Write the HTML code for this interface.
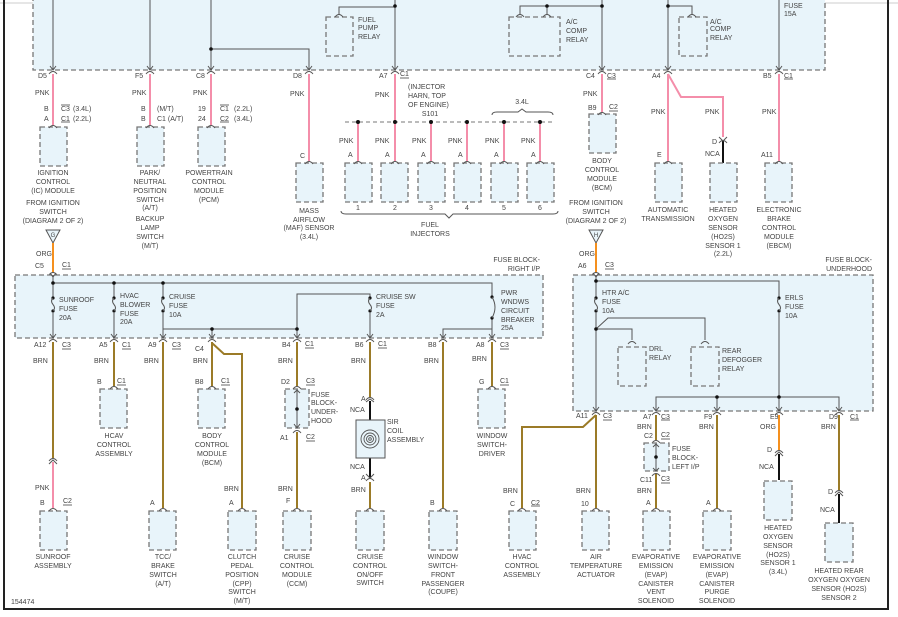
<!DOCTYPE html>
<html><head><meta charset="utf-8"><style>
html,body{margin:0;padding:0;background:#fff;}
svg{display:block;}
text{font-family:"Liberation Sans",sans-serif;font-size:7px;fill:#444;}
.m{text-anchor:middle;}
.e{text-anchor:end;}
.box{fill:#e8f4fa;stroke:#777;stroke-width:1.3;stroke-dasharray:5,3;}
.g{stroke:#555;stroke-width:1;fill:none;}
.p{stroke:#f48eaa;stroke-width:2;fill:none;}
.b{stroke:#9b7b28;stroke-width:2;fill:none;}
.o{stroke:#f5901e;stroke-width:2;fill:none;}
.k{stroke:#111;stroke-width:2;fill:none;}
.u{stroke:#444;stroke-width:0.8;}
</style></head><body>
<svg width="898" height="617" viewBox="0 0 898 617" xmlns="http://www.w3.org/2000/svg">
<defs>
<path id="cap" d="M-4,3 Q0,-2 4,3" fill="none" stroke="#555" stroke-width="1"/>
<path id="arr" d="M-3,-4 L0,0 L3,-4" fill="none" stroke="#555" stroke-width="1"/>
<g id="out"><path d="M-3,-4 L0,0 L3,-4" fill="none" stroke="#555"/><path d="M-4,4 Q0,-1 4,4" fill="none" stroke="#555"/></g>
<g id="fuse"><circle cx="0" cy="0" r="1.6" fill="#111"/><circle cx="0" cy="13" r="1.6" fill="#111"/><path d="M0,0 Q-3,3 0,6.5 Q3,10 0,13" fill="none" stroke="#555"/></g>
</defs>
<rect x="0" y="0" width="898" height="617" fill="#fff"/>
<line x1="0" y1="3" x2="898" y2="3" stroke="#ccc"/>
<!-- frame -->
<line x1="4" y1="0" x2="4" y2="610" stroke="#222" stroke-width="2"/>
<line x1="888" y1="0" x2="888" y2="610" stroke="#222" stroke-width="2"/>
<line x1="4" y1="609" x2="888" y2="609" stroke="#222" stroke-width="2"/>

<!-- TOP BOX -->
<rect class="box" x="33" y="-5" width="792" height="75"/>
<g class="g">
<line x1="53" y1="0" x2="53" y2="70"/><line x1="150" y1="0" x2="150" y2="70"/><line x1="211" y1="0" x2="211" y2="70"/>
<path d="M211,49 H309 V70"/>
<path d="M339,15 V7 H395 M395,0 V70"/>
<path d="M520,15 V6 H602 M547,6 V15 M602,0 V70"/>
<path d="M692,15 V6 H668 M668,0 V70"/>
<line x1="779" y1="0" x2="779" y2="70"/>
</g>
<circle cx="395" cy="6" r="1.8" fill="#111"/><circle cx="211" cy="49" r="1.8" fill="#111"/>
<circle cx="547" cy="6" r="1.8" fill="#111"/><circle cx="602" cy="6" r="1.8" fill="#111"/><circle cx="668" cy="6" r="1.8" fill="#111"/>
<rect class="box" x="326" y="17" width="27" height="39"/><use href="#cap" x="339" y="14"/>
<text x="358" y="22">FUEL</text><text x="358" y="30">PUMP</text><text x="358" y="39">RELAY</text>
<rect class="box" x="509" y="17" width="51" height="39"/><use href="#cap" x="520" y="14"/><use href="#cap" x="547" y="14"/>
<text x="566" y="24">A/C</text><text x="566" y="33">COMP</text><text x="566" y="42">RELAY</text>
<rect class="box" x="679" y="17" width="28" height="39"/><use href="#cap" x="692" y="14"/>
<text x="710" y="24">A/C</text><text x="710" y="31">COMP</text><text x="710" y="40">RELAY</text>
<text x="784" y="8">FUSE</text><text x="784" y="16">15A</text>
<g><use href="#out" x="53" y="70"/><use href="#out" x="150" y="70"/><use href="#out" x="211" y="70"/><use href="#out" x="309" y="70"/><use href="#out" x="395" y="70"/><use href="#out" x="602" y="70"/><use href="#out" x="668" y="70"/><use href="#out" x="779" y="70"/></g>

<!-- top wires -->
<g class="p">
<line x1="53" y1="74" x2="53" y2="125"/><line x1="150" y1="74" x2="150" y2="125"/><line x1="211" y1="74" x2="211" y2="125"/>
<line x1="309" y1="74" x2="309" y2="161"/><line x1="395" y1="74" x2="395" y2="161"/>
<line x1="358" y1="122" x2="358" y2="161"/><line x1="431" y1="122" x2="431" y2="161"/><line x1="467" y1="122" x2="467" y2="161"/><line x1="504" y1="122" x2="504" y2="161"/><line x1="540" y1="122" x2="540" y2="161"/>
<line x1="602" y1="74" x2="602" y2="112"/><line x1="668" y1="74" x2="668" y2="161"/>
<path d="M668,74 L681,97 H723 V137"/>
<line x1="779" y1="74" x2="779" y2="161"/>
</g>
<line x1="345" y1="122" x2="555" y2="122" stroke="#777" stroke-dasharray="4,3"/>
<g fill="#111"><circle cx="358" cy="122" r="2"/><circle cx="395" cy="122" r="2"/><circle cx="431" cy="122" r="2"/><circle cx="467" cy="122" r="2"/><circle cx="504" cy="122" r="2"/><circle cx="540" cy="122" r="2"/></g>
<path d="M492,115 Q492,112 497,112 H518 L522,109 L526,112 H548 Q553,112 553,115" class="g" stroke="#666"/>
<text x="522" y="104" class="m">3.4L</text>
<line x1="723" y1="141" x2="723" y2="163" class="k"/>
<path d="M719,137 L723,141 L727,137 M719,143 Q723,138 727,143" class="g"/>

<!-- top labels -->
<text x="38" y="78">D5</text><text x="135" y="78">F5</text><text x="196" y="78">C8</text><text x="293" y="78">D8</text><text x="379" y="78">A7</text><text x="400" y="76">C1</text><line class="u" x1="400" y1="78" x2="409" y2="78"/>
<text x="586" y="78">C4</text><text x="607" y="78">C3</text><line class="u" x1="607" y1="79" x2="616" y2="79"/>
<text x="652" y="78">A4</text><text x="763" y="78">B5</text><text x="784" y="78">C1</text><line class="u" x1="784" y1="79" x2="793" y2="79"/>
<text x="35" y="95">PNK</text><text x="132" y="95">PNK</text><text x="193" y="95">PNK</text><text x="290" y="96">PNK</text><text x="375" y="97">PNK</text>
<text x="408" y="89">(INJECTOR</text><text x="408" y="98">HARN, TOP</text><text x="408" y="107">OF ENGINE)</text><text x="430" y="116" class="m">S101</text>
<text x="583" y="96">PNK</text><text x="651" y="114">PNK</text><text x="705" y="114">PNK</text><text x="762" y="114">PNK</text>
<text x="44" y="111">B</text><text x="61" y="111">C3</text><line class="u" x1="61" y1="105" x2="70" y2="105"/><text x="73" y="111">(3.4L)</text>
<text x="44" y="121">A</text><text x="61" y="121">C1</text><line class="u" x1="61" y1="122" x2="70" y2="122"/><text x="73" y="121">(2.2L)</text>
<text x="141" y="111">B</text><text x="157" y="111">(M/T)</text>
<text x="141" y="121">B</text><text x="157" y="121">C1 (A/T)</text>
<text x="198" y="111">19</text><text x="220" y="111">C1</text><line class="u" x1="220" y1="105" x2="229" y2="105"/><text x="234" y="111">(2.2L)</text>
<text x="198" y="121">24</text><text x="220" y="121">C2</text><line class="u" x1="220" y1="122" x2="229" y2="122"/><text x="234" y="121">(3.4L)</text>
<text x="300" y="158">C</text>
<text x="339" y="143">PNK</text><text x="375" y="143">PNK</text><text x="412" y="143">PNK</text><text x="448" y="143">PNK</text><text x="485" y="143">PNK</text><text x="521" y="143">PNK</text>
<text x="348" y="157">A</text><text x="385" y="157">A</text><text x="421" y="157">A</text><text x="458" y="157">A</text><text x="494" y="157">A</text><text x="531" y="157">A</text>
<text x="588" y="110">B9</text><text x="609" y="109">C2</text><line class="u" x1="609" y1="111" x2="618" y2="111"/>
<text x="657" y="157">E</text><text x="712" y="144">D</text><text x="705" y="156">NCA</text><text x="761" y="157">A11</text>

<!-- top modules -->
<g>
<rect class="box" x="40" y="127" width="27" height="39"/><use href="#cap" x="53" y="125"/>
<rect class="box" x="137" y="127" width="27" height="39"/><use href="#cap" x="150" y="125"/>
<rect class="box" x="198" y="127" width="27" height="39"/><use href="#cap" x="211" y="125"/>
<rect class="box" x="296" y="163" width="27" height="39"/><use href="#cap" x="309" y="161"/>
<rect class="box" x="345" y="163" width="27" height="39"/><use href="#cap" x="358" y="161"/>
<rect class="box" x="381" y="163" width="27" height="39"/><use href="#cap" x="395" y="161"/>
<rect class="box" x="418" y="163" width="27" height="39"/><use href="#cap" x="431" y="161"/>
<rect class="box" x="454" y="163" width="27" height="39"/><use href="#cap" x="467" y="161"/>
<rect class="box" x="491" y="163" width="27" height="39"/><use href="#cap" x="504" y="161"/>
<rect class="box" x="527" y="163" width="27" height="39"/><use href="#cap" x="540" y="161"/>
<rect class="box" x="589" y="114" width="27" height="39"/><use href="#cap" x="602" y="112"/>
<rect class="box" x="655" y="163" width="27" height="39"/><use href="#cap" x="668" y="161"/>
<rect class="box" x="710" y="163" width="27" height="39"/>
<rect class="box" x="765" y="163" width="27" height="39"/><use href="#cap" x="779" y="161"/>
</g>
<text x="358" y="210" class="m">1</text><text x="395" y="210" class="m">2</text><text x="431" y="210" class="m">3</text><text x="467" y="210" class="m">4</text><text x="504" y="210" class="m">5</text><text x="540" y="210" class="m">6</text>
<path d="M341,211 Q341,214 346,214 H445 L449,218 L453,214 H553 Q558,214 558,211" class="g" stroke="#666"/>
<text x="430" y="227" class="m">FUEL</text><text x="430" y="236" class="m">INJECTORS</text>
<g class="m">
<text x="53" y="175" class="m">IGNITION</text><text x="53" y="184" class="m">CONTROL</text><text x="53" y="193" class="m">(IC) MODULE</text>
<text x="53" y="205" class="m">FROM IGNITION</text><text x="53" y="214" class="m">SWITCH</text><text x="53" y="223" class="m">(DIAGRAM 2 OF 2)</text>
<text x="150" y="175" class="m">PARK/</text><text x="150" y="184" class="m">NEUTRAL</text><text x="150" y="193" class="m">POSITION</text><text x="150" y="202" class="m">SWITCH</text><text x="150" y="210" class="m">(A/T)</text><text x="150" y="221" class="m">BACKUP</text><text x="150" y="230" class="m">LAMP</text><text x="150" y="239" class="m">SWITCH</text><text x="150" y="248" class="m">(M/T)</text>
<text x="209" y="175" class="m">POWERTRAIN</text><text x="209" y="184" class="m">CONTROL</text><text x="209" y="193" class="m">MODULE</text><text x="209" y="202" class="m">(PCM)</text>
<text x="309" y="213" class="m">MASS</text><text x="309" y="222" class="m">AIRFLOW</text><text x="309" y="230" class="m">(MAF) SENSOR</text><text x="309" y="239" class="m">(3.4L)</text>
<text x="602" y="163" class="m">BODY</text><text x="602" y="172" class="m">CONTROL</text><text x="602" y="181" class="m">MODULE</text><text x="602" y="190" class="m">(BCM)</text>
<text x="596" y="205" class="m">FROM IGNITION</text><text x="596" y="214" class="m">SWITCH</text><text x="596" y="223" class="m">(DIAGRAM 2 OF 2)</text>
<text x="668" y="212" class="m">AUTOMATIC</text><text x="668" y="221" class="m">TRANSMISSION</text>
<text x="723" y="212" class="m">HEATED</text><text x="723" y="221" class="m">OXYGEN</text><text x="723" y="230" class="m">SENSOR</text><text x="723" y="239" class="m">(HO2S)</text><text x="723" y="248" class="m">SENSOR 1</text><text x="723" y="256" class="m">(2.2L)</text>
<text x="779" y="212" class="m">ELECTRONIC</text><text x="779" y="221" class="m">BRAKE</text><text x="779" y="230" class="m">CONTROL</text><text x="779" y="239" class="m">MODULE</text><text x="779" y="248" class="m">(EBCM)</text>
</g>

<!-- G / H triangles -->
<path d="M46,230 H60 L53,243 Z" fill="#e8f4fa" stroke="#555"/><text x="53" y="237" class="m" style="font-size:6px">G</text>
<path d="M589,230 H603 L596,243 Z" fill="#e8f4fa" stroke="#555"/><text x="596" y="237" class="m" style="font-size:6px">H</text>
<line x1="53" y1="243" x2="53" y2="273" class="o"/><line x1="596" y1="243" x2="596" y2="273" class="o"/>
<text x="36" y="256">ORG</text><text x="579" y="256">ORG</text>
<text x="35" y="268">C5</text><text x="62" y="267">C1</text><line class="u" x1="62" y1="269" x2="71" y2="269"/>
<text x="578" y="268">A6</text><text x="605" y="267">C3</text><line class="u" x1="605" y1="269" x2="614" y2="269"/>
<use href="#cap" x="53" y="272"/><use href="#cap" x="596" y="272"/>

<!-- MIDDLE LEFT BOX -->
<rect class="box" x="15" y="275" width="528" height="63"/>
<text x="540" y="262" class="e">FUSE BLOCK-</text><text x="540" y="271" class="e">RIGHT I/P</text>
<g class="g">
<line x1="53" y1="275" x2="53" y2="338"/>
<path d="M53,283 H492 V338"/>
<line x1="114" y1="283" x2="114" y2="338"/>
<line x1="163" y1="283" x2="163" y2="338"/>
<path d="M163,329 H297 V338 M212,329 V338 M297,329 V294 H370 V338"/>
<path d="M443,338 V329 H492"/>
</g>
<use href="#arr" x="53" y="277"/>
<g fill="#111"><circle cx="53" cy="283" r="1.8"/><circle cx="114" cy="283" r="1.8"/><circle cx="163" cy="283" r="1.8"/><circle cx="212" cy="329" r="1.8"/><circle cx="297" cy="329" r="1.8"/></g>
<g fill="#e8f4fa" stroke="none"><rect x="50" y="298" width="6" height="15"/><rect x="111" y="298" width="6" height="15"/><rect x="160" y="298" width="6" height="15"/><rect x="367" y="298" width="6" height="15"/><rect x="489" y="298" width="6" height="20"/></g>
<use href="#fuse" x="53" y="298"/><use href="#fuse" x="114" y="298"/><use href="#fuse" x="163" y="298"/><use href="#fuse" x="370" y="298"/>
<circle cx="492" cy="297" r="1.6" fill="#111"/><circle cx="492" cy="318" r="1.6" fill="#111"/><path d="M492,297 Q498,307 492,318" class="g"/>
<text x="59" y="302">SUNROOF</text><text x="59" y="311">FUSE</text><text x="59" y="320">20A</text>
<text x="120" y="298">HVAC</text><text x="120" y="307">BLOWER</text><text x="120" y="316">FUSE</text><text x="120" y="324">20A</text>
<text x="169" y="299">CRUISE</text><text x="169" y="308">FUSE</text><text x="169" y="317">10A</text>
<text x="376" y="299">CRUISE SW</text><text x="376" y="308">FUSE</text><text x="376" y="317">2A</text>
<text x="501" y="295">PWR</text><text x="501" y="304">WNDWS</text><text x="501" y="313">CIRCUIT</text><text x="501" y="322">BREAKER</text><text x="501" y="330">25A</text>
<g><use href="#out" x="53" y="338"/><use href="#out" x="114" y="338"/><use href="#out" x="163" y="338"/><use href="#out" x="212" y="338"/><use href="#out" x="297" y="338"/><use href="#out" x="370" y="338"/><use href="#out" x="443" y="338"/><use href="#out" x="492" y="338"/></g>
<text x="34" y="347">A12</text><text x="62" y="347">C3</text><line class="u" x1="62" y1="349" x2="71" y2="349"/>
<text x="99" y="347">A5</text><text x="122" y="347">C1</text><line class="u" x1="122" y1="349" x2="131" y2="349"/>
<text x="148" y="347">A9</text><text x="172" y="347">C3</text><line class="u" x1="172" y1="349" x2="181" y2="349"/>
<text x="195" y="351">C4</text>
<text x="282" y="347">B4</text><text x="305" y="346">C1</text><line class="u" x1="305" y1="348" x2="314" y2="348"/>
<text x="355" y="347">B6</text><text x="378" y="346">C1</text><line class="u" x1="378" y1="348" x2="387" y2="348"/>
<text x="428" y="347">B8</text>
<text x="476" y="347">A8</text><text x="500" y="347">C3</text><line class="u" x1="500" y1="349" x2="509" y2="349"/>
<text x="33" y="363">BRN</text><text x="94" y="363">BRN</text><text x="144" y="363">BRN</text><text x="193" y="363">BRN</text><text x="278" y="363">BRN</text><text x="351" y="363">BRN</text><text x="424" y="363">BRN</text><text x="472" y="361">BRN</text>

<!-- middle-left wires -->
<g class="b">
<line x1="53" y1="342" x2="53" y2="458"/>
<line x1="114" y1="342" x2="114" y2="386"/>
<line x1="163" y1="342" x2="163" y2="508"/>
<line x1="212" y1="342" x2="212" y2="386"/>
<path d="M212,343 L224,354 H242 V508"/>
<line x1="297" y1="342" x2="297" y2="386"/>
<line x1="297" y1="432" x2="297" y2="508"/>
<line x1="370" y1="342" x2="370" y2="397"/>
<line x1="370" y1="482" x2="370" y2="508"/>
<line x1="443" y1="342" x2="443" y2="508"/>
<line x1="492" y1="342" x2="492" y2="386"/>
</g>
<use href="#cap" x="53" y="458"/><path d="M49,464 L53,460 L57,464" class="g"/>
<line x1="53" y1="462" x2="53" y2="508" class="p"/>
<text x="35" y="490">PNK</text>
<!-- modules mid -->
<rect class="box" x="100" y="389" width="27" height="39"/><use href="#cap" x="114" y="386"/>
<text x="97" y="384">B</text><text x="117" y="383">C1</text><line class="u" x1="117" y1="385" x2="126" y2="385"/>
<text x="114" y="438" class="m">HCAV</text><text x="114" y="447" class="m">CONTROL</text><text x="114" y="456" class="m">ASSEMBLY</text>
<rect class="box" x="198" y="389" width="27" height="39"/><use href="#cap" x="212" y="386"/>
<text x="195" y="384">B8</text><text x="221" y="383">C1</text><line class="u" x1="221" y1="385" x2="230" y2="385"/>
<text x="212" y="438" class="m">BODY</text><text x="212" y="447" class="m">CONTROL</text><text x="212" y="456" class="m">MODULE</text><text x="212" y="465" class="m">(BCM)</text>
<rect class="box" x="285" y="389" width="24" height="39"/>
<use href="#cap" x="297" y="386"/><path d="M294,393 L297,390 L300,393 M297,390 V428 M294,424 L297,428 L300,424" class="g"/>
<circle cx="297" cy="409" r="1.8" fill="#111"/><use href="#cap" x="297" y="430"/>
<text x="281" y="384">D2</text><text x="306" y="383">C3</text><line class="u" x1="306" y1="385" x2="315" y2="385"/>
<text x="311" y="397">FUSE</text><text x="311" y="405">BLOCK-</text><text x="311" y="414">UNDER-</text><text x="311" y="423">HOOD</text>
<text x="280" y="440">A1</text><text x="306" y="439">C2</text><line class="u" x1="306" y1="441" x2="315" y2="441"/>
<use href="#cap" x="370" y="397"/><path d="M366,402 L370,399 L374,402" class="g"/>
<line x1="370" y1="401" x2="370" y2="420" class="k"/><line x1="370" y1="458" x2="370" y2="478" class="k"/>
<text x="361" y="401">A</text><text x="350" y="412">NCA</text><text x="350" y="469">NCA</text><text x="361" y="480">A</text><text x="351" y="492">BRN</text>
<path d="M366,474 L370,478 L374,474" class="g"/><use href="#cap" x="370" y="478"/>
<rect x="356" y="420" width="29" height="38" fill="#e8f4fa" stroke="#555"/>
<g fill="none" stroke="#555" stroke-width="0.9"><circle cx="370" cy="439" r="9"/><circle cx="370" cy="439" r="6"/><circle cx="370" cy="439" r="3.5"/><circle cx="370" cy="439" r="1.3"/></g>
<text x="387" y="424">SIR</text><text x="387" y="433">COIL</text><text x="387" y="442">ASSEMBLY</text>
<rect class="box" x="478" y="389" width="27" height="39"/><use href="#cap" x="492" y="386"/>
<text x="479" y="384">G</text><text x="500" y="383">C1</text><line class="u" x1="500" y1="385" x2="509" y2="385"/>
<text x="492" y="438" class="m">WINDOW</text><text x="492" y="447" class="m">SWITCH-</text><text x="492" y="456" class="m">DRIVER</text>

<!-- bottom-left modules -->
<g>
<rect class="box" x="40" y="511" width="27" height="39"/><use href="#cap" x="53" y="508"/>
<rect class="box" x="149" y="511" width="27" height="39"/><use href="#cap" x="163" y="508"/>
<rect class="box" x="228" y="511" width="28" height="39"/><use href="#cap" x="242" y="508"/>
<rect class="box" x="283" y="511" width="28" height="39"/><use href="#cap" x="297" y="508"/>
<rect class="box" x="356" y="511" width="28" height="39"/><use href="#cap" x="370" y="508"/>
<rect class="box" x="429" y="511" width="28" height="39"/><use href="#cap" x="443" y="508"/>
</g>
<text x="40" y="505">B</text><text x="63" y="503">C2</text><line class="u" x1="63" y1="505" x2="72" y2="505"/>
<text x="150" y="505">A</text><text x="229" y="505">A</text><text x="286" y="503">F</text><text x="430" y="505">B</text>
<text x="224" y="491">BRN</text><text x="278" y="491">BRN</text>
<text x="53" y="559" class="m">SUNROOF</text><text x="53" y="568" class="m">ASSEMBLY</text>
<text x="163" y="559" class="m">TCC/</text><text x="163" y="568" class="m">BRAKE</text><text x="163" y="577" class="m">SWITCH</text><text x="163" y="586" class="m">(A/T)</text>
<text x="242" y="559" class="m">CLUTCH</text><text x="242" y="568" class="m">PEDAL</text><text x="242" y="577" class="m">POSITION</text><text x="242" y="586" class="m">(CPP)</text><text x="242" y="594" class="m">SWITCH</text><text x="242" y="603" class="m">(M/T)</text>
<text x="297" y="559" class="m">CRUISE</text><text x="297" y="568" class="m">CONTROL</text><text x="297" y="577" class="m">MODULE</text><text x="297" y="586" class="m">(CCM)</text>
<text x="370" y="559" class="m">CRUISE</text><text x="370" y="568" class="m">CONTROL</text><text x="370" y="577" class="m">ON/OFF</text><text x="370" y="585" class="m">SWITCH</text>
<text x="443" y="559" class="m">WINDOW</text><text x="443" y="568" class="m">SWITCH-</text><text x="443" y="577" class="m">FRONT</text><text x="443" y="586" class="m">PASSENGER</text><text x="443" y="594" class="m">(COUPE)</text>
<text x="11" y="604">154474</text>

<!-- RIGHT BOX -->
<rect class="box" x="573" y="275" width="300" height="136"/>
<text x="872" y="262" class="e">FUSE BLOCK-</text><text x="872" y="271" class="e">UNDERHOOD</text>
<g class="g">
<path d="M596,275 V411 M596,281 H779 V411"/>
<path d="M596,329 L608,318 H705 V340 M596,329 H632 V340"/>
<path d="M656,411 V397 H839 V411 M717,397 V411"/>
</g>
<use href="#arr" x="596" y="277"/>
<g fill="#111"><circle cx="596" cy="281" r="1.8"/><circle cx="596" cy="329" r="1.8"/><circle cx="717" cy="397" r="1.8"/><circle cx="779" cy="397" r="1.8"/></g>
<rect x="593" y="298" width="6" height="15" fill="#e8f4fa"/><rect x="776" y="298" width="6" height="15" fill="#e8f4fa"/>
<use href="#fuse" x="596" y="298"/><use href="#fuse" x="779" y="298"/>
<text x="602" y="295">HTR A/C</text><text x="602" y="304">FUSE</text><text x="602" y="313">10A</text>
<text x="785" y="300">ERLS</text><text x="785" y="309">FUSE</text><text x="785" y="318">10A</text>
<rect class="box" x="618" y="347" width="28" height="39"/><use href="#cap" x="632" y="341"/>
<rect class="box" x="691" y="347" width="28" height="39"/><use href="#cap" x="705" y="341"/>
<text x="649" y="351">DRL</text><text x="649" y="360">RELAY</text>
<text x="722" y="353">REAR</text><text x="722" y="362">DEFOGGER</text><text x="722" y="371">RELAY</text>
<g><use href="#out" x="596" y="411"/><use href="#out" x="656" y="411"/><use href="#out" x="717" y="411"/><use href="#out" x="779" y="411"/><use href="#out" x="839" y="411"/></g>
<text x="576" y="418">A11</text><text x="603" y="418">C3</text><line class="u" x1="603" y1="420" x2="612" y2="420"/>
<text x="643" y="419">A7</text><text x="661" y="419">C3</text><line class="u" x1="661" y1="420" x2="670" y2="420"/>
<text x="704" y="419">F9</text><text x="770" y="419">E9</text><text x="829" y="419">D9</text><text x="850" y="419">C1</text><line class="u" x1="850" y1="420" x2="859" y2="420"/>
<text x="637" y="429">BRN</text><text x="699" y="429">BRN</text><text x="760" y="429">ORG</text><text x="821" y="429">BRN</text>
<!-- right bottom wires -->
<g class="b">
<path d="M596,415 L583,427 H522 V508"/>
<line x1="596" y1="415" x2="596" y2="508"/>
<line x1="656" y1="415" x2="656" y2="440"/><line x1="656" y1="474" x2="656" y2="508"/>
<line x1="717" y1="415" x2="717" y2="508"/>
<line x1="839" y1="415" x2="839" y2="490"/>
</g>
<line x1="779" y1="415" x2="779" y2="450" class="o"/>
<use href="#cap" x="779" y="450"/><path d="M775,456 L779,452 L783,456" class="g"/><line x1="779" y1="454" x2="779" y2="480" class="k"/>
<use href="#cap" x="839" y="490"/><path d="M835,496 L839,492 L843,496" class="g"/><line x1="839" y1="494" x2="839" y2="523" class="k"/>
<text x="767" y="452">D</text><text x="759" y="469">NCA</text><text x="828" y="494">D</text><text x="820" y="512">NCA</text>
<text x="644" y="438">C2</text><text x="661" y="437">C2</text><line class="u" x1="661" y1="439" x2="670" y2="439"/>
<use href="#cap" x="656" y="440"/>
<rect class="box" x="644" y="443" width="25" height="28"/>
<path d="M653,447 L656,444 L659,447 M656,444 V471 M653,468 L656,471 L659,468" class="g"/><circle cx="656" cy="457" r="1.8" fill="#111"/>
<use href="#cap" x="656" y="473"/>
<text x="672" y="451">FUSE</text><text x="672" y="460">BLOCK-</text><text x="672" y="469">LEFT I/P</text>
<text x="640" y="482">C11</text><text x="661" y="481">C3</text><line class="u" x1="661" y1="483" x2="670" y2="483"/>
<text x="637" y="493">BRN</text><text x="646" y="505">A</text><text x="706" y="505">A</text>
<text x="503" y="493">BRN</text><text x="576" y="493">BRN</text>
<text x="510" y="506">C</text><text x="531" y="505">C2</text><line class="u" x1="531" y1="506" x2="540" y2="506"/><text x="581" y="506">10</text>
<g>
<rect class="box" x="509" y="511" width="27" height="39"/><use href="#cap" x="522" y="508"/>
<rect class="box" x="582" y="511" width="27" height="39"/><use href="#cap" x="596" y="508"/>
<rect class="box" x="643" y="511" width="27" height="39"/><use href="#cap" x="656" y="508"/>
<rect class="box" x="703" y="511" width="28" height="39"/><use href="#cap" x="717" y="508"/>
<rect class="box" x="764" y="481" width="28" height="39"/>
<rect class="box" x="825" y="523" width="28" height="39"/>
</g>
<text x="522" y="559" class="m">HVAC</text><text x="522" y="568" class="m">CONTROL</text><text x="522" y="577" class="m">ASSEMBLY</text>
<text x="596" y="559" class="m">AIR</text><text x="596" y="568" class="m">TEMPERATURE</text><text x="596" y="577" class="m">ACTUATOR</text>
<text x="656" y="559" class="m">EVAPORATIVE</text><text x="656" y="568" class="m">EMISSION</text><text x="656" y="577" class="m">(EVAP)</text><text x="656" y="586" class="m">CANISTER</text><text x="656" y="594" class="m">VENT</text><text x="656" y="603" class="m">SOLENOID</text>
<text x="717" y="559" class="m">EVAPORATIVE</text><text x="717" y="568" class="m">EMISSION</text><text x="717" y="577" class="m">(EVAP)</text><text x="717" y="586" class="m">CANISTER</text><text x="717" y="594" class="m">PURGE</text><text x="717" y="603" class="m">SOLENOID</text>
<text x="778" y="530" class="m">HEATED</text><text x="778" y="539" class="m">OXYGEN</text><text x="778" y="548" class="m">SENSOR</text><text x="778" y="557" class="m">(HO2S)</text><text x="778" y="565" class="m">SENSOR 1</text><text x="778" y="574" class="m">(3.4L)</text>
<text x="839" y="573" class="m">HEATED REAR</text><text x="839" y="582" class="m">OXYGEN OXYGEN</text><text x="839" y="591" class="m">SENSOR (HO2S)</text><text x="839" y="600" class="m">SENSOR 2</text>
</svg>
</body></html>
